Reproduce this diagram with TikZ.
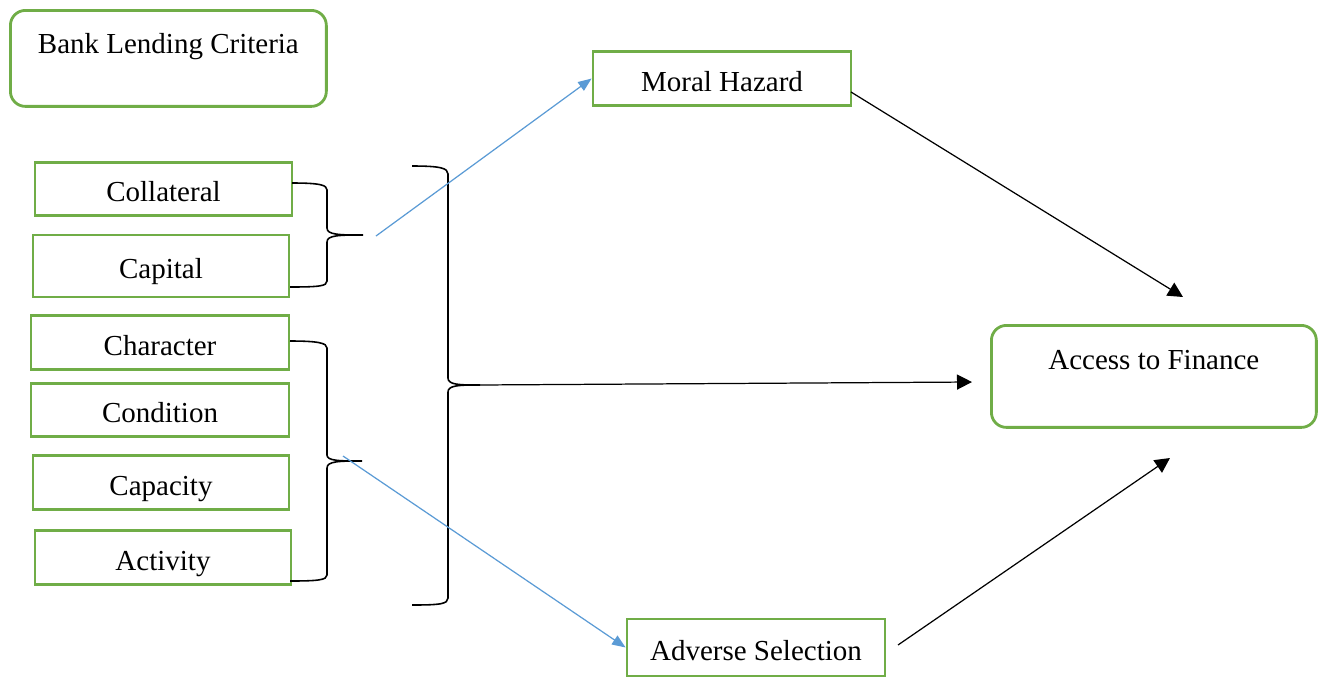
\documentclass[tikz,border=0pt]{standalone}
\usepackage{fontspec}
\setmainfont{Liberation Serif}
\definecolor{boxgreen}{RGB}{112, 173, 71}
\definecolor{linkblue}{RGB}{91, 155, 213}
\usetikzlibrary{arrows.meta, positioning, calc}

\begin{document}
\begin{tikzpicture}[x=0.02cm, y=-0.02cm,
  every node/.style={font=\fontsize{16.5}{19}\selectfont},
  critbox/.style={draw=boxgreen, line width=1.6pt, minimum width=5.14cm, minimum height=1.07cm, inner sep=0pt, text height=0.5cm, text depth=0cm},
  headbox/.style={draw=boxgreen, line width=1.6pt, rounded corners=0.3cm, inner sep=0pt, anchor=north west},
  curly/.style={draw=black, line width=0.9pt},
  bluelink/.style={draw=linkblue, line width=0.7pt, -{Triangle[length=0.27cm, width=0.21cm]}},
  blacklink/.style={draw=black, line width=0.7pt, -{Triangle[length=0.3cm, width=0.3cm]}}]
  \useasboundingbox (0,0) rectangle (1319,677);

  % heading boxes
  \node[headbox, minimum width=6.32cm, text height=0.86cm, text depth=1.06cm] (blc) at (9,9) {Bank Lending Criteria};
  \node[headbox, minimum width=6.5cm, text height=0.88cm, text depth=1.16cm] (atf) at (990,324) {Access to Finance};

  % criteria
  \node[critbox] (coll) at (163.5,189) {Collateral};
  \node[critbox, minimum width=5.12cm, minimum height=1.24cm] (capi) at (161,266) {Capital};
  \node[critbox, minimum width=5.16cm] (char) at (160,342.5) {Character};
  \node[critbox, minimum width=5.16cm] (cond) at (160,410) {Condition};
  \node[critbox, minimum width=5.12cm] (capa) at (161,482.5) {Capacity};
  \node[critbox, minimum width=5.12cm] (acti) at (163,557.5) {Activity};

  % outcomes
  \node[critbox, minimum width=5.16cm] (mh) at (722,78.5) {Moral Hazard};
  \node[critbox, minimum width=5.16cm, minimum height=1.14cm] (as) at (756,647.5) {Adverse Selection};

  % braces
  \draw[curly] (292,183) .. controls (320,183) and (327,185) .. (327,190) -- (327,228)
    .. controls (327,235) and (340,235) .. (363,235)
    .. controls (340,235) and (327,235) .. (327,242) -- (327,281)
    .. controls (327,286) and (320,287) .. (290,287);
  \draw[curly] (290,341) .. controls (318,341) and (327,343) .. (327,348) -- (327,455)
    .. controls (327,461) and (340,461) .. (362,461)
    .. controls (340,461) and (327,461) .. (327,468) -- (327,575)
    .. controls (327,580) and (318,581) .. (290,581);
  \draw[curly] (412,166) .. controls (440,166) and (448,168) .. (448,174) -- (448,378)
    .. controls (448,385) and (460,385) .. (480,385)
    .. controls (460,385) and (448,385) .. (448,392) -- (448,598)
    .. controls (448,604) and (440,605) .. (412,605);

  % free ends
  \coordinate (b1) at (376,236);
  \coordinate (b2) at (343,456);
  \coordinate (bt) at (478,385);
  \coordinate (mhout) at (851,92);
  \coordinate (asout) at (898,645);
  \coordinate (atftop) at (1183,297);
  \coordinate (atfleft) at (972,382);
  \coordinate (atfbot) at (1170,458);

  % links
  \draw[bluelink] (b1) -- (mh.west);
  \draw[bluelink] (b2) -- (as.west);
  \draw[blacklink] (bt) -- (atfleft);
  \draw[blacklink] (mhout) -- (atftop);
  \draw[blacklink] (asout) -- (atfbot);
\end{tikzpicture}
\end{document}
